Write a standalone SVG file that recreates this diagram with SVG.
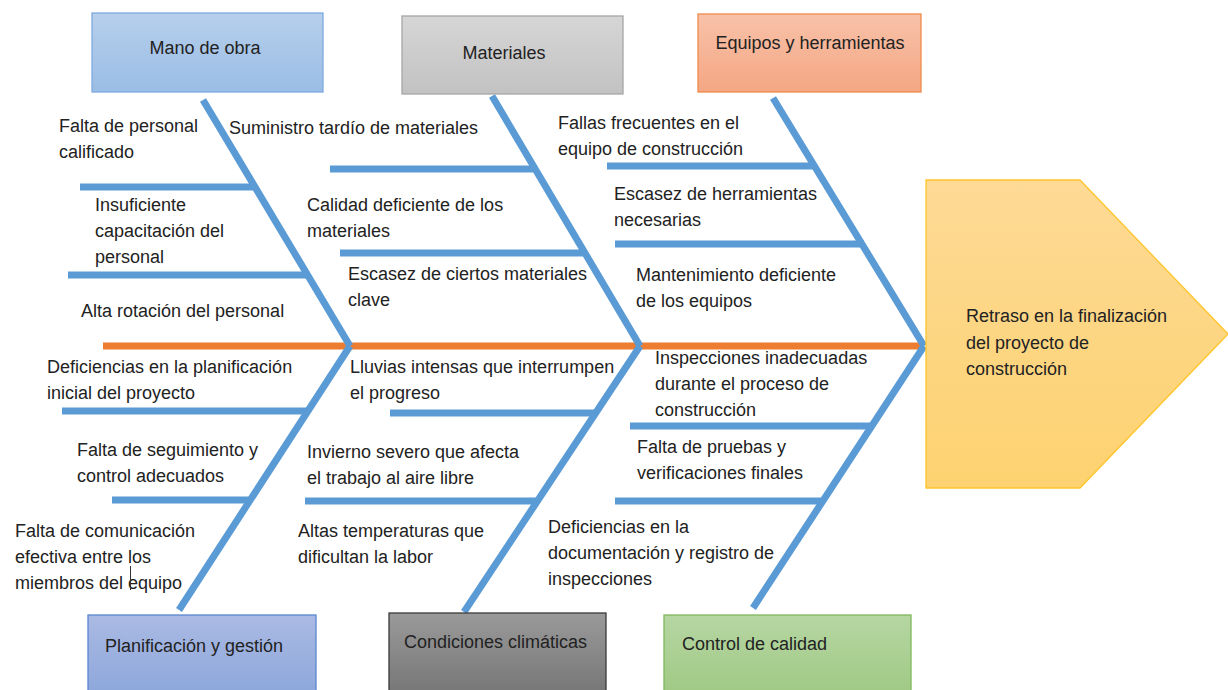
<svg xmlns="http://www.w3.org/2000/svg" width="1228" height="690" viewBox="0 0 1228 690">
<defs>
<linearGradient id="gBlue" x1="0" y1="0" x2="0" y2="1"><stop offset="0" stop-color="#B7CFEC"/><stop offset="1" stop-color="#9ABDE5"/></linearGradient>
<linearGradient id="gGray" x1="0" y1="0" x2="0" y2="1"><stop offset="0" stop-color="#D6D6D6"/><stop offset="1" stop-color="#C2C2C2"/></linearGradient>
<linearGradient id="gOrange" x1="0" y1="0" x2="0" y2="1"><stop offset="0" stop-color="#F8C2A9"/><stop offset="1" stop-color="#F4A683"/></linearGradient>
<linearGradient id="gYellow" x1="0" y1="0" x2="0" y2="1"><stop offset="0" stop-color="#FDDA96"/><stop offset="1" stop-color="#FDD270"/></linearGradient>
<linearGradient id="gIndigo" x1="0" y1="0" x2="0" y2="1"><stop offset="0" stop-color="#AABAE3"/><stop offset="1" stop-color="#8DA7DB"/></linearGradient>
<linearGradient id="gDark" x1="0" y1="0" x2="0" y2="1"><stop offset="0" stop-color="#9A9A9A"/><stop offset="1" stop-color="#767676"/></linearGradient>
<linearGradient id="gGreen" x1="0" y1="0" x2="0" y2="1"><stop offset="0" stop-color="#B6D6A3"/><stop offset="1" stop-color="#A0C984"/></linearGradient>
</defs>
<style>
text{font-family:"Liberation Sans",Arial,sans-serif;font-size:18px;fill:#222222}
.bone{stroke:#5B9BD5;stroke-width:7;fill:none;stroke-linecap:butt}
.spine{stroke:#ED7D31;stroke-width:7;fill:none}
.box{stroke-width:1.3}
</style>
<rect width="1228" height="690" fill="#FFFFFF"/>

<g id="connectors">
<line class="spine" x1="103" y1="346" x2="924" y2="346"/>
<line class="bone" x1="203" y1="100" x2="350" y2="346"/>
<line class="bone" x1="80" y1="187" x2="254" y2="187"/>
<line class="bone" x1="68" y1="275" x2="306" y2="275"/>
<line class="bone" x1="492" y1="96" x2="640" y2="346"/>
<line class="bone" x1="330" y1="169" x2="534" y2="169"/>
<line class="bone" x1="340" y1="253" x2="583" y2="253"/>
<line class="bone" x1="773" y1="98" x2="924" y2="346"/>
<line class="bone" x1="607" y1="166" x2="816" y2="166"/>
<line class="bone" x1="615" y1="244" x2="864" y2="244"/>
<line class="bone" x1="350" y1="346" x2="179" y2="610"/>
<line class="bone" x1="62" y1="411" x2="308" y2="411"/>
<line class="bone" x1="112" y1="500" x2="251" y2="500"/>
<line class="bone" x1="640" y1="346" x2="464" y2="612"/>
<line class="bone" x1="390" y1="413" x2="596" y2="413"/>
<line class="bone" x1="305" y1="501" x2="538" y2="501"/>
<line class="bone" x1="924" y1="346" x2="753" y2="608"/>
<line class="bone" x1="630" y1="426" x2="872" y2="426"/>
<line class="bone" x1="615" y1="501" x2="822" y2="501"/>
</g>

<g id="mano-de-obra">
<rect class="box" x="92" y="13" width="231" height="79" fill="url(#gBlue)" stroke="#7FAADF"/>
<text x="205" y="54" text-anchor="middle">Mano de obra</text>
</g>
<g id="materiales">
<rect class="box" x="402" y="16" width="221" height="78" fill="url(#gGray)" stroke="#A6A6A6"/>
<text x="504" y="59" text-anchor="middle">Materiales</text>
</g>
<g id="equipos">
<rect class="box" x="698" y="14" width="223" height="78" fill="url(#gOrange)" stroke="#F08A4B"/>
<text x="810" y="49" text-anchor="middle">Equipos y herramientas</text>
</g>
<g id="efecto">
<polygon points="926,180 1080,180 1228,334 1080,488 926,488" fill="url(#gYellow)" stroke="#FFC52B" stroke-width="1.3"/>
<text x="966" y="322">Retraso en la finalización</text>
<text x="966" y="349">del proyecto de</text>
<text x="966" y="375">construcción</text>
</g>
<g id="planificacion">
<rect class="box" x="88" y="615" width="228" height="80" fill="url(#gIndigo)" stroke="#5A86CF"/>
<text x="105" y="652">Planificación y gestión</text>
</g>
<g id="condiciones">
<rect class="box" x="389" y="613" width="217" height="82" fill="url(#gDark)" stroke="#3A3A3A"/>
<text x="404" y="648">Condiciones climáticas</text>
</g>
<g id="control">
<rect class="box" x="664" y="615" width="247" height="80" fill="url(#gGreen)" stroke="#80B85C"/>
<text x="682" y="650">Control de calidad</text>
</g>

<g id="causas-mano">
<text x="59" y="132">Falta de personal</text>
<text x="59" y="158">calificado</text>
<text x="95" y="211">Insuficiente</text>
<text x="95" y="237">capacitación del</text>
<text x="95" y="263">personal</text>
<text x="81" y="317">Alta rotación del personal</text>
</g>
<g id="causas-materiales">
<text x="229" y="134">Suministro tardío de materiales</text>
<text x="307" y="211">Calidad deficiente de los</text>
<text x="307" y="237">materiales</text>
<text x="348" y="280">Escasez de ciertos materiales</text>
<text x="348" y="306">clave</text>
</g>
<g id="causas-equipos">
<text x="558" y="129">Fallas frecuentes en el</text>
<text x="558" y="155">equipo de construcción</text>
<text x="614" y="200">Escasez de herramientas</text>
<text x="614" y="226">necesarias</text>
<text x="636" y="281">Mantenimiento deficiente</text>
<text x="636" y="307">de los equipos</text>
</g>
<g id="causas-planificacion">
<text x="47" y="373">Deficiencias en la planificación</text>
<text x="47" y="399">inicial del proyecto</text>
<text x="77" y="456">Falta de seguimiento y</text>
<text x="77" y="482">control adecuados</text>
<text x="15" y="537">Falta de comunicación</text>
<text x="15" y="563">efectiva entre los</text>
<text x="15" y="589">miembros del equipo</text>
<line x1="130.5" y1="566" x2="130.5" y2="590" stroke="#333333" stroke-width="1"/>
</g>
<g id="causas-clima">
<text x="350" y="373">Lluvias intensas que interrumpen</text>
<text x="350" y="399">el progreso</text>
<text x="307" y="458">Invierno severo que afecta</text>
<text x="307" y="484">el trabajo al aire libre</text>
<text x="298" y="537">Altas temperaturas que</text>
<text x="298" y="563">dificultan la labor</text>
</g>
<g id="causas-calidad">
<text x="655" y="364">Inspecciones inadecuadas</text>
<text x="655" y="390">durante el proceso de</text>
<text x="655" y="416">construcción</text>
<text x="637" y="453">Falta de pruebas y</text>
<text x="637" y="479">verificaciones finales</text>
<text x="548" y="533">Deficiencias en la</text>
<text x="548" y="559">documentación y registro de</text>
<text x="548" y="585">inspecciones</text>
</g>
</svg>
